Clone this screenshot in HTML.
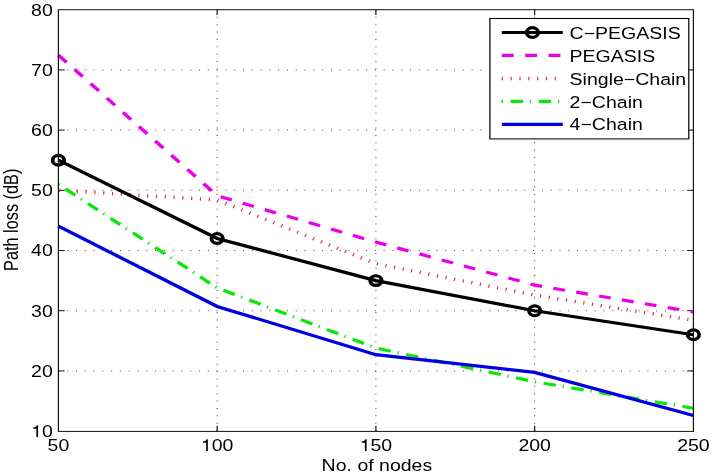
<!DOCTYPE html>
<html><head><meta charset="utf-8"><style>
html,body{margin:0;padding:0;background:#fff;}
svg{display:block;will-change:transform;filter:blur(0.3px);}
text{font-family:"Liberation Sans",sans-serif;}
</style></head><body>
<svg width="713" height="475" viewBox="0 0 713 475">
<rect x="0" y="0" width="713" height="475" fill="#fff"/>
<g transform="scale(1.18,1)">
<line x1="184.03" y1="431.10" x2="184.03" y2="9.70" stroke="#444" stroke-width="0.9" stroke-dasharray="1 6.38"/>
<line x1="318.56" y1="431.10" x2="318.56" y2="9.70" stroke="#444" stroke-width="0.9" stroke-dasharray="1 6.38"/>
<line x1="453.09" y1="431.10" x2="453.09" y2="9.70" stroke="#444" stroke-width="0.9" stroke-dasharray="1 6.38"/>
<line x1="49.49" y1="370.90" x2="587.63" y2="370.90" stroke="#444" stroke-width="1" stroke-dasharray="0.85 6.6"/>
<line x1="49.49" y1="310.70" x2="587.63" y2="310.70" stroke="#444" stroke-width="1" stroke-dasharray="0.85 6.6"/>
<line x1="49.49" y1="250.50" x2="587.63" y2="250.50" stroke="#444" stroke-width="1" stroke-dasharray="0.85 6.6"/>
<line x1="49.49" y1="190.30" x2="587.63" y2="190.30" stroke="#444" stroke-width="1" stroke-dasharray="0.85 6.6"/>
<line x1="49.49" y1="130.10" x2="587.63" y2="130.10" stroke="#444" stroke-width="1" stroke-dasharray="0.85 6.6"/>
<line x1="49.49" y1="69.90" x2="587.63" y2="69.90" stroke="#444" stroke-width="1" stroke-dasharray="0.85 6.6"/>
<line x1="184.03" y1="431.10" x2="184.03" y2="425.80" stroke="#111" stroke-width="1"/>
<line x1="184.03" y1="9.70" x2="184.03" y2="15.00" stroke="#111" stroke-width="1"/>
<line x1="318.56" y1="431.10" x2="318.56" y2="425.80" stroke="#111" stroke-width="1"/>
<line x1="318.56" y1="9.70" x2="318.56" y2="15.00" stroke="#111" stroke-width="1"/>
<line x1="453.09" y1="431.10" x2="453.09" y2="425.80" stroke="#111" stroke-width="1"/>
<line x1="453.09" y1="9.70" x2="453.09" y2="15.00" stroke="#111" stroke-width="1"/>
<line x1="49.49" y1="370.90" x2="54.79" y2="370.90" stroke="#111" stroke-width="1"/>
<line x1="587.63" y1="370.90" x2="582.33" y2="370.90" stroke="#111" stroke-width="1"/>
<line x1="49.49" y1="310.70" x2="54.79" y2="310.70" stroke="#111" stroke-width="1"/>
<line x1="587.63" y1="310.70" x2="582.33" y2="310.70" stroke="#111" stroke-width="1"/>
<line x1="49.49" y1="250.50" x2="54.79" y2="250.50" stroke="#111" stroke-width="1"/>
<line x1="587.63" y1="250.50" x2="582.33" y2="250.50" stroke="#111" stroke-width="1"/>
<line x1="49.49" y1="190.30" x2="54.79" y2="190.30" stroke="#111" stroke-width="1"/>
<line x1="587.63" y1="190.30" x2="582.33" y2="190.30" stroke="#111" stroke-width="1"/>
<line x1="49.49" y1="130.10" x2="54.79" y2="130.10" stroke="#111" stroke-width="1"/>
<line x1="587.63" y1="130.10" x2="582.33" y2="130.10" stroke="#111" stroke-width="1"/>
<line x1="49.49" y1="69.90" x2="54.79" y2="69.90" stroke="#111" stroke-width="1"/>
<line x1="587.63" y1="69.90" x2="582.33" y2="69.90" stroke="#111" stroke-width="1"/>
<polyline points="49.49,55.15 184.03,195.72 318.56,242.07 453.09,285.12 587.63,311.90" fill="none" stroke="#ea00ea" stroke-width="3.2" stroke-dasharray="10.05 9.72"/>
<polyline points="49.49,190.30 184.03,199.93 318.56,263.74 453.09,295.05 587.63,320.33" fill="none" stroke="#d03444" stroke-width="3.5" stroke-dasharray="1.0 6.47" stroke-dashoffset="-0.7"/>
<polyline points="49.49,184.28 184.03,287.82 318.56,348.02 453.09,381.74 587.63,408.22" fill="none" stroke="#0be60b" stroke-width="3.2" stroke-dasharray="1.1 6.45 10.6 5.85"/>
<polyline points="49.49,226.12 184.03,306.49 318.56,354.65 453.09,372.41 587.63,415.45" fill="none" stroke="#0000e0" stroke-width="3.2"/>
<polyline points="49.49,160.20 184.03,238.46 318.56,280.60 453.09,310.70 587.63,334.78" fill="none" stroke="#000" stroke-width="3.2"/>
<circle cx="49.49" cy="160.20" r="4.85" fill="none" stroke="#000" stroke-width="3.2"/>
<circle cx="184.03" cy="238.46" r="4.85" fill="none" stroke="#000" stroke-width="3.2"/>
<circle cx="318.56" cy="280.60" r="4.85" fill="none" stroke="#000" stroke-width="3.2"/>
<circle cx="453.09" cy="310.70" r="4.85" fill="none" stroke="#000" stroke-width="3.2"/>
<circle cx="587.63" cy="334.78" r="4.85" fill="none" stroke="#000" stroke-width="3.2"/>
<rect x="49.49" y="9.7" width="538.14" height="421.70" fill="none" stroke="#111" stroke-width="1"/>
<rect x="415.17" y="18.50" width="168.56" height="120.40" fill="#fff" stroke="#000" stroke-width="1.05"/>
<line x1="425.25" y1="32.50" x2="476.95" y2="32.50" stroke="#000" stroke-width="3.2" />
<line x1="425.25" y1="55.47" x2="476.95" y2="55.47" stroke="#ea00ea" stroke-width="3.2" stroke-dasharray="10.1 9.7"/>
<line x1="425.25" y1="78.44" x2="476.95" y2="78.44" stroke="#d03444" stroke-width="3.2" stroke-dasharray="1.0 6.47" style="stroke-width:3.5px"/>
<line x1="425.25" y1="101.41" x2="476.95" y2="101.41" stroke="#0be60b" stroke-width="3.2" stroke-dasharray="1.1 6.4 10.5 5.8"/>
<line x1="425.25" y1="124.38" x2="476.95" y2="124.38" stroke="#0000e0" stroke-width="3.2" />
<circle cx="451.19" cy="32.50" r="4.85" fill="none" stroke="#000" stroke-width="3.2"/>
</g>
<g transform="translate(52.80,437.00) scale(1.183,1)"><path transform="translate(-18.348,0) scale(0.01650,-0.01650)" d="M 270 0 L 358 0 L 358 709 L 290 709 C 275 640 230 585 109 575 L 109 505 L 270 505 Z"/><text x="-9.174" y="0" font-size="16.5">0</text></g>
<text transform="translate(52.80,376.80) scale(1.183,1)" font-size="16.5" text-anchor="end">20</text>
<text transform="translate(52.80,316.60) scale(1.183,1)" font-size="16.5" text-anchor="end">30</text>
<text transform="translate(52.80,256.40) scale(1.183,1)" font-size="16.5" text-anchor="end">40</text>
<text transform="translate(52.80,196.20) scale(1.183,1)" font-size="16.5" text-anchor="end">50</text>
<text transform="translate(52.80,136.00) scale(1.183,1)" font-size="16.5" text-anchor="end">60</text>
<text transform="translate(52.80,75.80) scale(1.183,1)" font-size="16.5" text-anchor="end">70</text>
<text transform="translate(52.80,15.60) scale(1.183,1)" font-size="16.5" text-anchor="end">80</text>
<text transform="translate(58.40,451.00) scale(1.183,1)" font-size="16.5" text-anchor="middle">50</text>
<g transform="translate(217.15,451.00) scale(1.183,1)"><path transform="translate(-13.761,0) scale(0.01650,-0.01650)" d="M 270 0 L 358 0 L 358 709 L 290 709 C 275 640 230 585 109 575 L 109 505 L 270 505 Z"/><text x="-4.587" y="0" font-size="16.5">0</text><text x="4.587" y="0" font-size="16.5">0</text></g>
<g transform="translate(375.90,451.00) scale(1.183,1)"><path transform="translate(-13.761,0) scale(0.01650,-0.01650)" d="M 270 0 L 358 0 L 358 709 L 290 709 C 275 640 230 585 109 575 L 109 505 L 270 505 Z"/><text x="-4.587" y="0" font-size="16.5">5</text><text x="4.587" y="0" font-size="16.5">0</text></g>
<text transform="translate(534.65,451.00) scale(1.183,1)" font-size="16.5" text-anchor="middle">200</text>
<text transform="translate(693.40,451.00) scale(1.183,1)" font-size="16.5" text-anchor="middle">250</text>
<text transform="translate(376.90,470.60) scale(1.183,1)" font-size="16.5" text-anchor="middle">No. of nodes</text>
<text transform="translate(17.7,219.8) scale(1.266,1) rotate(-90)" font-size="16.3" text-anchor="middle">Path loss (dB)</text>
<text transform="translate(569.60,38.60) scale(1.183,1)" font-size="16.5" text-anchor="start">C−PEGASIS</text>
<text transform="translate(569.60,61.57) scale(1.183,1)" font-size="16.5" text-anchor="start">PEGASIS</text>
<text transform="translate(569.60,84.54) scale(1.183,1)" font-size="16.5" text-anchor="start">Single−Chain</text>
<text transform="translate(569.60,107.51) scale(1.183,1)" font-size="16.5" text-anchor="start">2−Chain</text>
<text transform="translate(569.60,130.48) scale(1.183,1)" font-size="16.5" text-anchor="start">4−Chain</text>
</svg>
</body></html>
